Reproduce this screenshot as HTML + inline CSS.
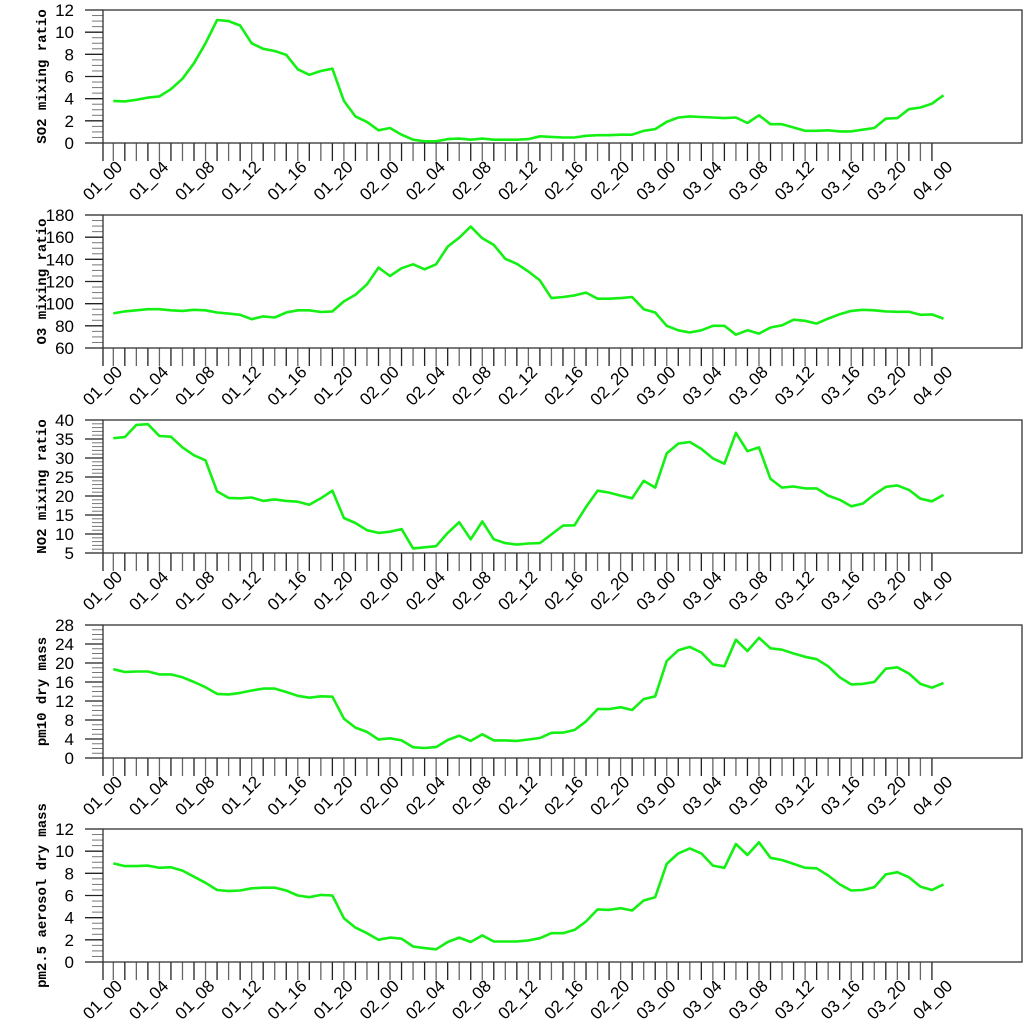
<!DOCTYPE html>
<html><head><meta charset="utf-8"><style>
html,body{margin:0;padding:0;background:#fff;}
svg{display:block;}
</style></head><body>
<svg id="chart" width="1024" height="1024" viewBox="0 0 1024 1024" xmlns="http://www.w3.org/2000/svg"></svg>
<script>
const hours = Array.from({length:73},(_,i)=>i);
const timeLabels = ["01_00","01_04","01_08","01_12","01_16","01_20","02_00","02_04","02_08","02_12","02_16","02_20","03_00","03_04","03_08","03_12","03_16","03_20","04_00"];
const so2 = [3.8,3.75,3.9,4.1,4.2,4.85,5.8,7.2,9.0,11.1,11.0,10.6,9.0,8.5,8.3,7.95,6.65,6.15,6.5,6.7,3.8,2.4,1.9,1.15,1.35,0.75,0.3,0.15,0.15,0.35,0.4,0.3,0.4,0.3,0.3,0.3,0.35,0.6,0.55,0.5,0.5,0.65,0.7,0.7,0.75,0.75,1.1,1.25,1.9,2.3,2.4,2.35,2.3,2.25,2.3,1.8,2.5,1.7,1.7,1.4,1.1,1.1,1.15,1.05,1.05,1.2,1.35,2.2,2.25,3.05,3.2,3.55,4.3];
const o3 = [91.2,93,94,95,95,94,93.5,94.5,94,92,91,90,86,88.5,87.5,92,94,94,92.5,93,102,108,117.5,132.5,125,132,135.5,131,135.5,151.5,159.5,169.5,159,153,140.5,136,129,121,105,106,107.5,110,104.5,104.5,105,106,95,92,80,76,74,76,80,80,72,76,73,78.5,80.5,85.5,84.5,82,86.5,90.5,93.5,94.5,94,93,92.7,92.7,90,90.3,86.5];
const no2 = [35.2,35.5,38.7,38.9,35.8,35.6,32.8,30.7,29.4,21.2,19.5,19.4,19.6,18.7,19.1,18.7,18.5,17.7,19.4,21.4,14.2,12.9,11,10.3,10.6,11.3,6.2,6.5,6.8,10.3,13.1,8.6,13.3,8.6,7.6,7.2,7.5,7.6,9.9,12.2,12.3,17.1,21.4,20.9,20.1,19.4,24,22.2,31.2,33.8,34.2,32.4,29.9,28.5,36.6,31.8,32.8,24.5,22.2,22.5,22,22,20.1,19,17.3,18,20.4,22.4,22.8,21.6,19.3,18.6,20.3];
const pm10 = [18.7,18.1,18.2,18.2,17.6,17.6,17,16,14.9,13.5,13.4,13.7,14.2,14.6,14.6,13.9,13.1,12.7,13,12.9,8.3,6.4,5.5,3.9,4.15,3.7,2.25,2.1,2.3,3.8,4.7,3.6,5,3.7,3.7,3.6,3.9,4.2,5.3,5.35,5.9,7.7,10.3,10.3,10.7,10.1,12.4,13,20.4,22.7,23.4,22.2,19.7,19.3,24.9,22.5,25.3,23.1,22.8,22,21.3,20.8,19.3,17,15.5,15.6,16,18.8,19.1,17.8,15.6,14.8,15.8];
const pm25 = [8.9,8.65,8.65,8.7,8.5,8.55,8.25,7.7,7.15,6.5,6.4,6.45,6.65,6.7,6.7,6.45,6,5.85,6.05,6,3.95,3.1,2.6,2,2.2,2.1,1.4,1.25,1.15,1.8,2.2,1.8,2.4,1.85,1.85,1.85,1.95,2.15,2.6,2.6,2.9,3.65,4.75,4.7,4.85,4.65,5.55,5.85,8.85,9.8,10.25,9.8,8.7,8.5,10.65,9.65,10.8,9.4,9.2,8.85,8.5,8.45,7.8,7.0,6.45,6.5,6.75,7.9,8.1,7.65,6.8,6.5,7.0];
const so2Ticks=[0,2,4,6,8,10,12];
const o3Ticks=[60,80,100,120,140,160,180];
const no2Ticks=[5,10,15,20,25,30,35,40];
const pm10Ticks=[0,4,8,12,16,20,24,28];
const pm25Ticks=[0,2,4,6,8,10,12];

const NS="http://www.w3.org/2000/svg";
const svg=document.getElementById('chart');
function mk(tag,attrs,parent){const e=document.createElementNS(NS,tag);for(const k in attrs)e.setAttribute(k,attrs[k]);(parent||svg).appendChild(e);return e;}
const X0=103,X1=1022,PX0=113.3,PXS=11.53;
function xScale(h){return PX0+h*PXS;}
const panels=[
 {name:'so2',title:'SO2 mixing ratio',data:so2,ticks:so2Ticks,minor:4,top:10,bot:143},
 {name:'o3',title:'O3 mixing ratio',data:o3,ticks:o3Ticks,minor:4,top:215,bot:348},
 {name:'no2',title:'NO2 mixing ratio',data:no2,ticks:no2Ticks,minor:5,top:420,bot:553},
 {name:'pm10',title:'pm10 dry mass',data:pm10,ticks:pm10Ticks,minor:4,top:625,bot:758},
 {name:'pm25',title:'pm2.5 aerosol dry mass',data:pm25,ticks:pm25Ticks,minor:4,top:829,bot:962}
];
panels.forEach(p=>{
  const g=mk('g',{});
  
  
  const lo=p.ticks[0],hi=p.ticks[p.ticks.length-1];
  const yScale=v=>p.bot-(v-lo)/(hi-lo)*(p.bot-p.top);
  const step=p.ticks[1]-p.ticks[0];
  for(let i=0;i<p.ticks.length-1;i++){for(let m=1;m<p.minor;m++){const y=yScale(p.ticks[i]+step*m/p.minor);
    const t=mk('line',{x1:92,x2:X0,y1:y,y2:y,stroke:'#777','stroke-width':1},g);
    
    }}
  p.ticks.forEach(v=>{const y=yScale(v);
    const t=mk('line',{x1:85,x2:X0,y1:y,y2:y,stroke:'#222','stroke-width':1.3},g);
    
    
    const l=mk('text',{x:74,y:y+6,'text-anchor':'end','font-family':'Liberation Sans, sans-serif','font-size':17,fill:'#000'},g);
    l.textContent=String(v);
    
    });
  const xt=mk('line',{x1:X0,x2:X0,y1:p.bot,y2:p.bot+18,stroke:'#222','stroke-width':1.3},g);
  
  
  for(let h=0;h<72;h++){const x=xScale(h);
    const t=mk('line',{x1:x,x2:x,y1:p.bot,y2:p.bot+18,stroke:h%2?'#222':'#666','stroke-width':1.3},g);
    
    }
  timeLabels.forEach((s,i)=>{const x=xScale(i*4)+10,y=p.bot+25;
    const l=mk('text',{x:x,y:y,'text-anchor':'end','font-family':'Liberation Sans, sans-serif','font-size':17,fill:'#000',transform:'rotate(-45 '+x+' '+y+')'},g);
    l.textContent=s;
    
    });
  const fr=mk('rect',{x:X0,y:p.top,width:X1-X0,height:p.bot-p.top,fill:'none',stroke:'#333','stroke-width':1.3},g);
  
  
  const pts=p.data.map((v,i)=>xScale(hours[i]).toFixed(1)+','+yScale(v).toFixed(1)).join(' ');
  const ln=mk('polyline',{points:pts,fill:'none',stroke:'#14f014','stroke-width':2.6,'stroke-linejoin':'round'},g);
  
  
  const cy=(p.top+p.bot)/2;
  const tt=mk('text',{x:46,y:cy,'text-anchor':'middle','font-family':'Liberation Mono, monospace','font-weight':'bold','font-size':14,fill:'#000',transform:'rotate(-90 46 '+cy+')'},g);
  tt.textContent=p.title;
  
  
});
</script>
</body></html>
